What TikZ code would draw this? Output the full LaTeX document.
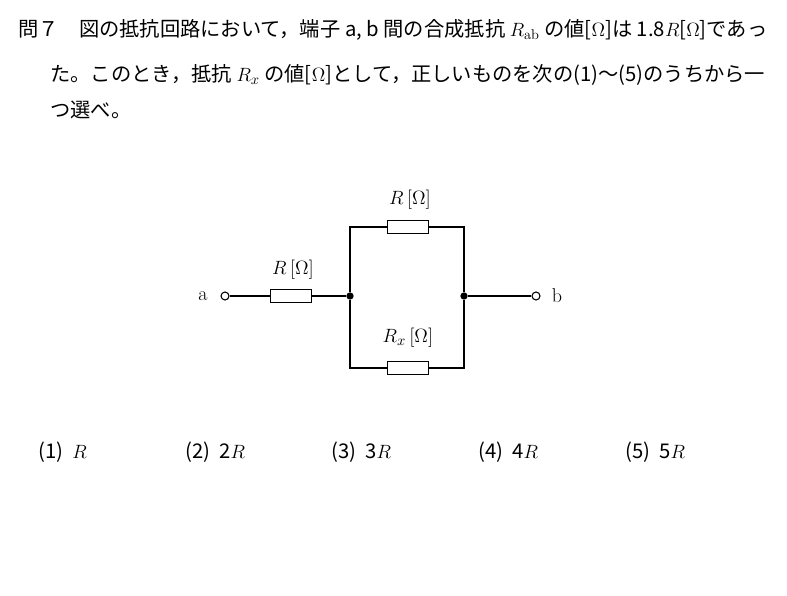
\documentclass[tikz,border=0pt]{standalone}
\usepackage{fontspec}
\newfontfamily\cjk{Noto Sans CJK JP}
\begin{document}
\begin{tikzpicture}[x=0.75pt,y=-0.75pt,
  txt/.style={anchor=west,inner sep=0pt,font=\cjk\fontsize{15.2}{16}\selectfont},
  lbl/.style={inner sep=0pt,font=\fontsize{15}{16}\selectfont},
  res/.style={draw,line width=1pt,minimum width=30.75pt,minimum height=10pt,inner sep=0pt,fill=white},
  term/.style={draw,circle,line width=0.8pt,minimum size=6pt,inner sep=0pt,fill=white},
  dot/.style={circle,fill,minimum size=5.5pt,inner sep=0pt},
  w/.style={line width=1pt}]
\useasboundingbox (0,0) rectangle (787,595);
\node[txt] (l1) at (18,30) {問７\quad 図の抵抗回路において，端子 a, b 間の合成抵抗 $R_{\mathrm{ab}}$ の値[$\Omega$]は 1.8$R$[$\Omega$]であっ};
\node[txt] (l2) at (50,75) {た。このとき，抵抗 $R_x$ の値[$\Omega$]として，正しいものを次の(1)～(5)のうちから一};
\node[txt] (l3) at (50,110) {つ選べ。};
\node[term] (a) at (225,296) {};
\node[lbl] (la) at (203,296) {a};
\node[res] (r1) at (291,296) {};
\node[dot] (j1) at (350,296) {};
\node[dot] (j2) at (464,296) {};
\coordinate (t1) at (350,227); \coordinate (t2) at (464,227);
\coordinate (b1) at (350,368); \coordinate (b2) at (464,368);
\node[res] (rt) at (408,227) {};
\node[res] (rb) at (408,368) {};
\node[term] (b) at (536,296) {};
\node[lbl] (lb) at (557,296) {b};
\draw[w] (a) -- (r1) -- (j1) -- (t1) -- (rt) -- (t2) -- (j2) -- (b2) -- (rb) -- (b1) -- (j1);
\draw[w] (j2) -- (b);
\node[lbl] (lt) at (410,200) {$R\,[\Omega]$};
\node[lbl] (ll) at (293,270) {$R\,[\Omega]$};
\node[lbl] (lbt) at (408,338) {$R_x\,[\Omega]$};
\node[txt] (c1) at (38,452) {(1)\ \ $R$};
\node[txt] (c2) at (185,452) {(2)\ \ 2$R$};
\node[txt] (c3) at (331,452) {(3)\ \ 3$R$};
\node[txt] (c4) at (478,452) {(4)\ \ 4$R$};
\node[txt] (c5) at (625,452) {(5)\ \ 5$R$};
\end{tikzpicture}
\end{document}
